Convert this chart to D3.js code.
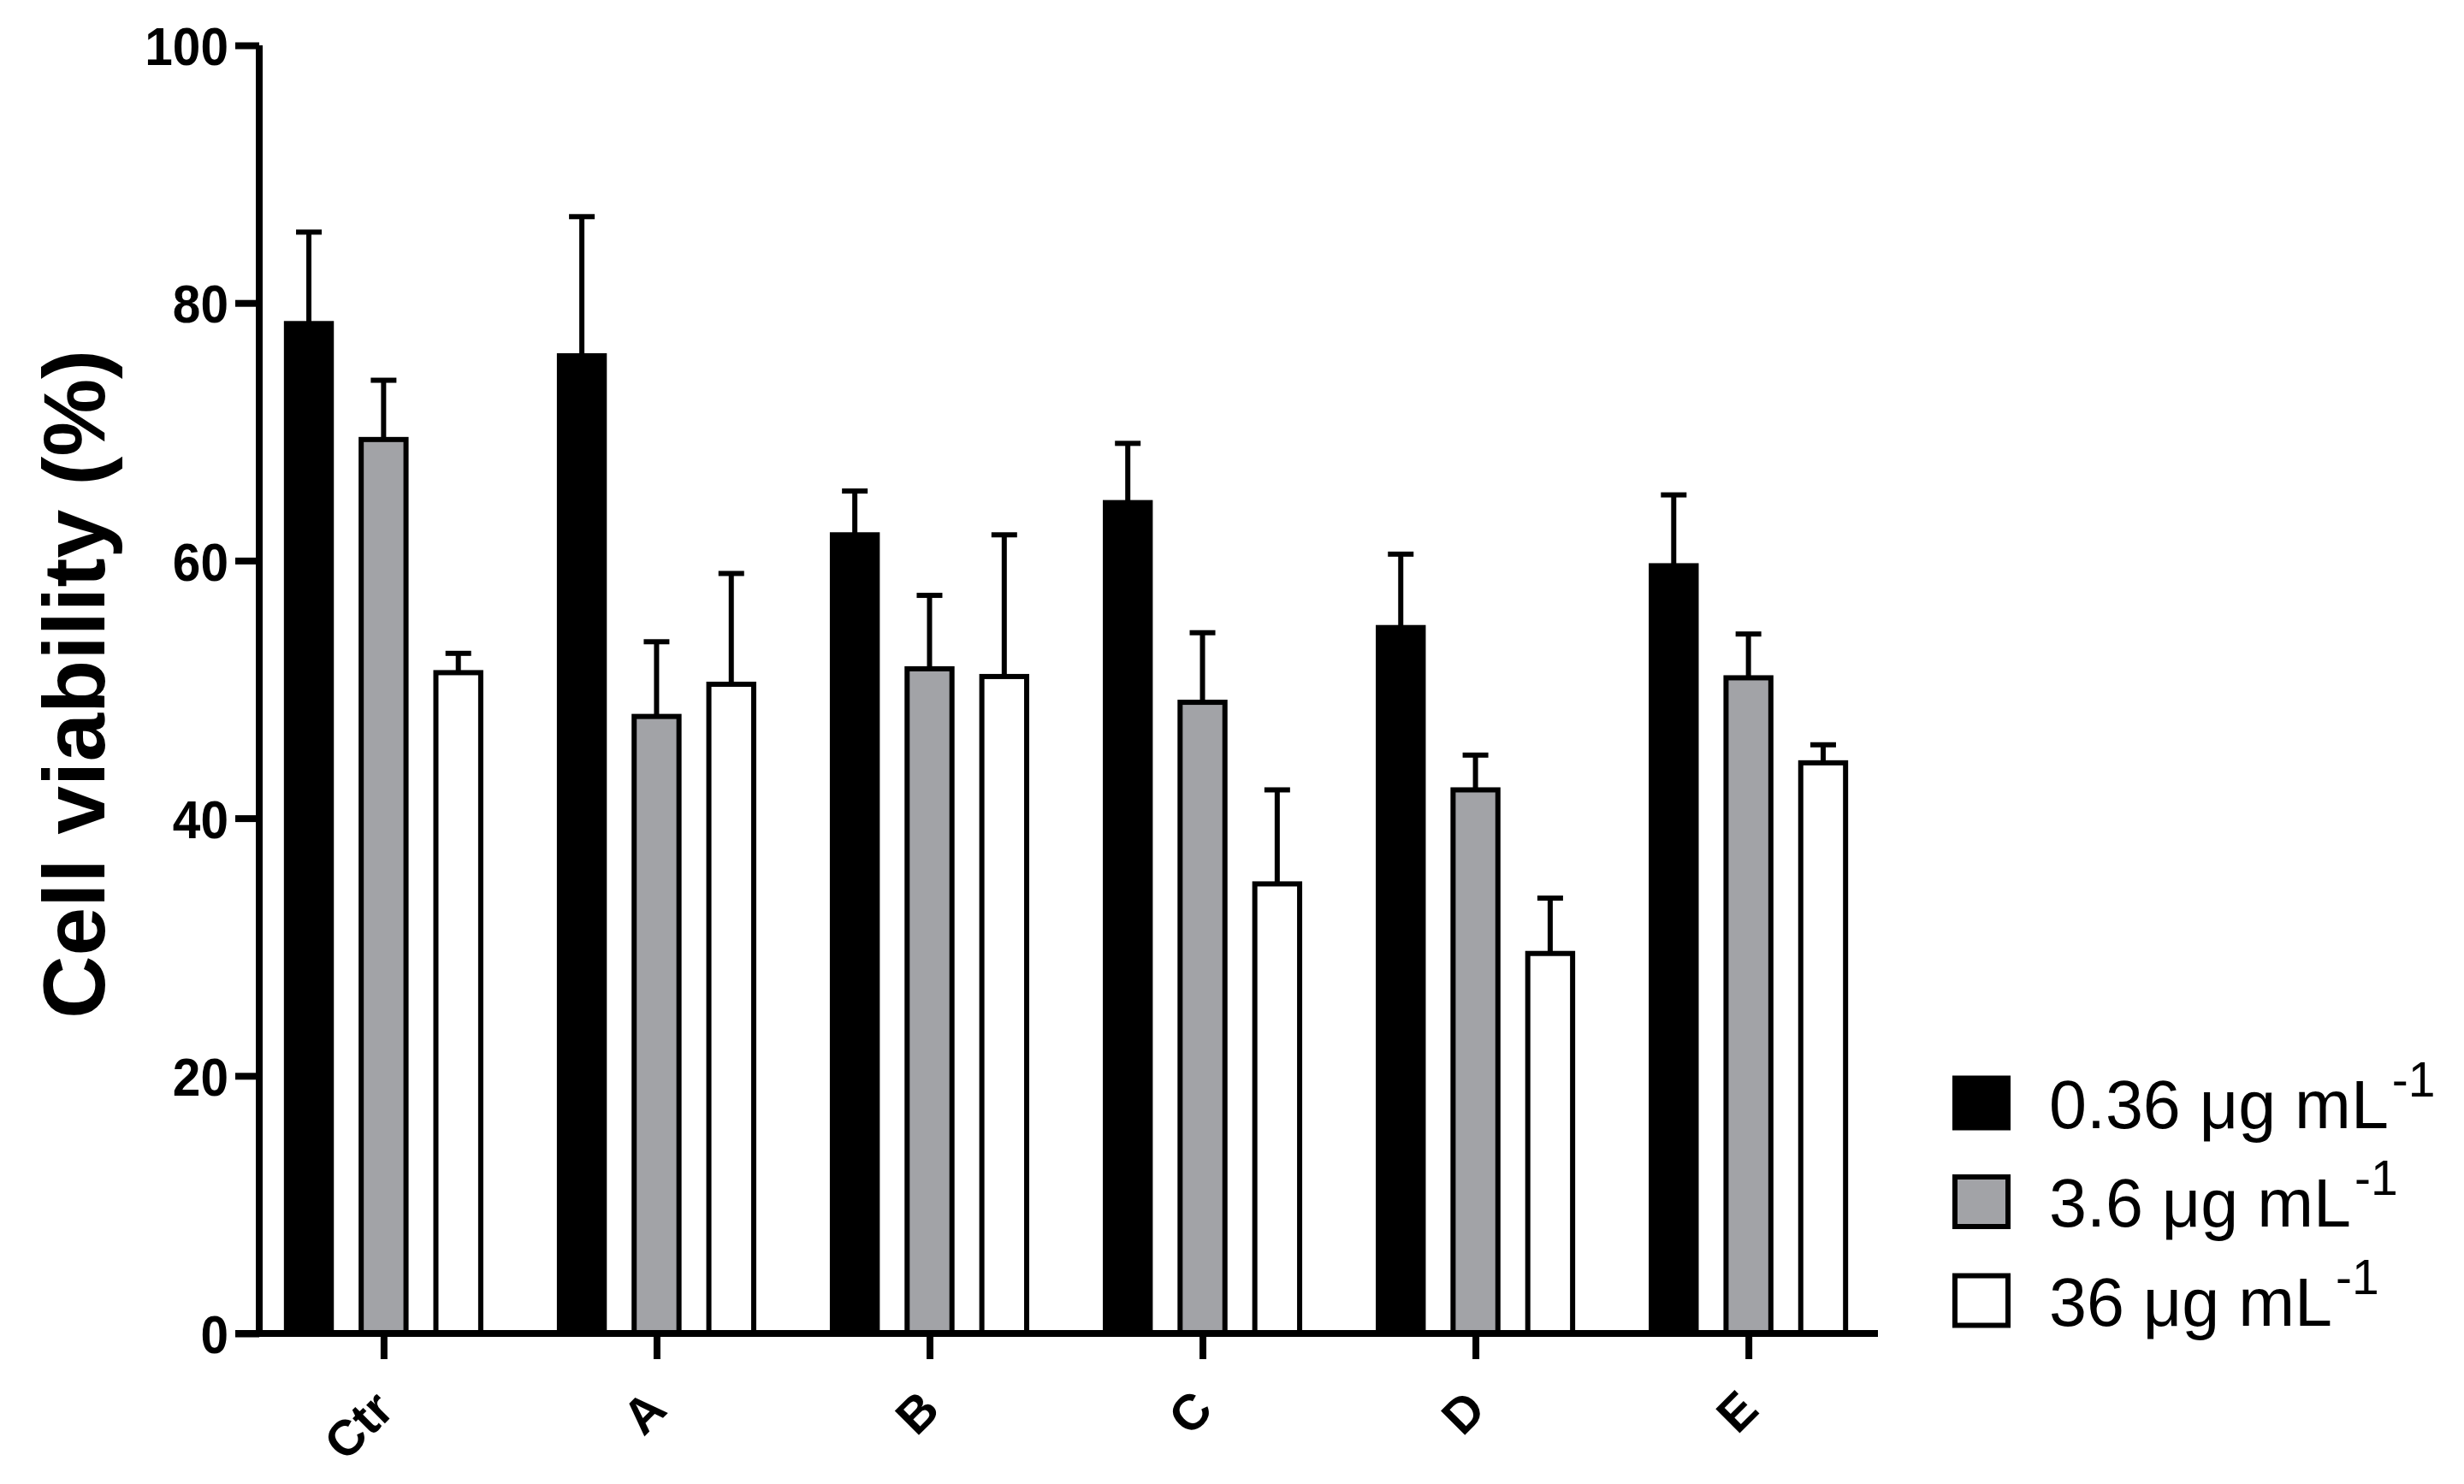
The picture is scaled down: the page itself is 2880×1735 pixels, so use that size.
<!DOCTYPE html>
<html>
<head>
<meta charset="utf-8">
<script src="https://cdn.jsdelivr.net/npm/d3@7"></script>
<style>
  body { margin: 0; background: #fff; }
  svg { display: block; }
</style>
</head>
<body>
<svg id="chart"></svg>
<script>
const width = 2880
const height = 1735

// data
const categories = ["Ctr", "A", "B", "C", "D", "E"]
const series = ["0.36 μg mL", "3.6 μg mL", "36 μg mL"]
const seriesColors = ["#000000", "#a2a3a7", "#ffffff"]
const means_036 = [78.4, 75.9, 62.0, 64.5, 54.8, 59.6]
const means_36 = [69.4, 47.9, 51.6, 49.0, 42.2, 50.9]
const means_360 = [51.3, 50.4, 51.0, 34.9, 29.5, 44.3]
const err_036 = [7.1, 10.8, 3.4, 4.6, 5.7, 5.5]
const err_36 = [4.6, 5.8, 5.7, 5.4, 2.7, 3.4]
const err_360 = [1.5, 8.6, 11.0, 7.3, 4.3, 1.4]
const yTicks = [0, 20, 40, 60, 80, 100]

const means = [means_036, means_36, means_360]
const errs = [err_036, err_36, err_360]
const font = "'Liberation Sans', Arial, sans-serif"

let rows = []
categories.forEach((c, i) => {
    series.forEach((s, j) => {
        rows.push({cat: c, ser: s, idx: j, v: means[j][i], e: errs[j][i]})
    })
})

let svg = d3.select("#chart")
    .attr("width", width)
    .attr("height", height)

let x0 = d3.scalePoint()
    .domain(categories)
    .range([300, 2192])
    .padding(0.465)

let x1 = d3.scaleBand()
    .domain(series)
    .range([-131, 131])
    .paddingInner(0.4)
    .paddingOuter(0.2)

let y = d3.scaleLinear()
    .domain([0, 100])
    .range([1559, 53])

let color = d3.scaleOrdinal().domain(series).range(seriesColors)
let cx = d => x0(d.cat) + x1(d.ser) + x1.bandwidth() / 2

// error bars (up only)
let eb = svg.append("g")
    .attr("stroke", "#000")
    .attr("stroke-width", 6)
eb.selectAll("line.v")
    .data(rows)
    .enter()
    .append("line")
    .attr("x1", cx)
    .attr("x2", cx)
    .attr("y1", d => y(d.v))
    .attr("y2", d => y(d.v + d.e))
eb.selectAll("line.cap")
    .data(rows)
    .enter()
    .append("line")
    .attr("x1", d => cx(d) - 15)
    .attr("x2", d => cx(d) + 15)
    .attr("y1", d => y(d.v + d.e))
    .attr("y2", d => y(d.v + d.e))

// bars
svg.append("g")
    .attr("stroke", "#000")
    .attr("stroke-width", 6)
    .selectAll("rect")
    .data(rows)
    .enter()
    .append("rect")
    .attr("x", d => x0(d.cat) + x1(d.ser))
    .attr("y", d => y(d.v))
    .attr("width", x1.bandwidth())
    .attr("height", d => y(0) - y(d.v))
    .attr("fill", d => color(d.ser))

// y axis
let yAxis = svg.append("g")
    .attr("transform", "translate(303,0)")
    .call(d3.axisLeft(y).tickValues(yTicks).tickSize(28))
yAxis.selectAll("path, line").attr("stroke", "#000").attr("stroke-width", 8)
yAxis.select("path").attr("d", "M0," + y(100) + "V" + y(0))
yAxis.selectAll("text")
    .attr("fill", "#000")
    .attr("x", 0)
    .attr("dy", "0.36em")
    .attr("transform", "translate(-36,0) scale(0.93,1)")
    .style("font-family", font)
    .style("font-weight", "bold")
    .style("font-size", "63px")

// x axis
let xAxis = svg.append("g")
    .attr("transform", "translate(0," + y(0) + ")")
    .call(d3.axisBottom(x0).tickSize(30))
xAxis.selectAll("path, line").attr("stroke", "#000").attr("stroke-width", 8)
xAxis.select("path").attr("d", "M" + (303 - 28) + ",0H2195")
xAxis.selectAll("text")
    .attr("fill", "#000")
    .attr("x", 0)
    .attr("y", 0)
    .attr("dy", 0)
    .attr("text-anchor", "end")
    .attr("transform", "translate(14,92) rotate(-45)")
    .style("font-family", font)
    .style("font-weight", "bold")
    .style("font-size", "58px")

// y title
svg.append("text")
    .attr("transform", "translate(122,800) rotate(-90)")
    .attr("text-anchor", "middle")
    .style("font-family", font)
    .style("font-weight", "bold")
    .style("font-size", "102px")
    .text("Cell viability (%)")

// legend
let legend = svg.append("g")
    .selectAll("g")
    .data(series)
    .enter()
    .append("g")
    .attr("transform", (d, i) => "translate(2285," + (1289.5 + i * 115.5) + ")")
legend.append("rect")
    .attr("x", 0)
    .attr("y", -29)
    .attr("width", 62)
    .attr("height", 58)
    .attr("fill", d => color(d))
    .attr("stroke", "#000")
    .attr("stroke-width", 6)
let lt = legend.append("text")
    .attr("x", 110)
    .attr("y", 29)
    .style("font-family", font)
    .style("font-size", "79px")
lt.append("tspan").text(d => d)
lt.append("tspan")
    .attr("dy", -37)
    .attr("dx", 4)
    .style("font-size", "57px")
    .text("-1")
</script>
</body>
</html>
